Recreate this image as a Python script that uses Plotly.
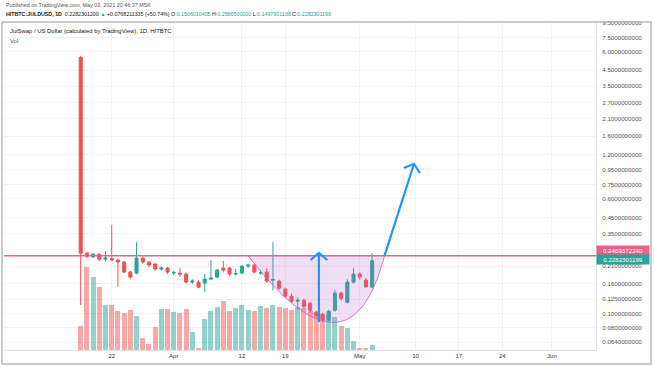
import numpy as np
import pandas as pd
import plotly.graph_objects as go

# ---------------- data ----------------
dates = pd.date_range("2021-03-17", "2021-05-03", freq="D")
open_ = [5.50, 0.257, 0.242, 0.253, 0.234, 0.236, 0.2307, 0.2236, 0.1911, 0.188,
         0.238, 0.2236, 0.2167, 0.2003, 0.2035, 0.1882, 0.1882, 0.1852, 0.1634, 0.1634,
         0.1609, 0.1713, 0.1767, 0.2035, 0.2035, 0.1852, 0.1882, 0.210, 0.213, 0.1882,
         0.1911, 0.1686, 0.166, 0.1464, 0.131, 0.121, 0.1229, 0.1173, 0.1019, 0.0988,
         0.090, 0.1052, 0.1374, 0.1191, 0.1634, 0.1852, 0.1686, 0.1506010405]
high = [5.60, 0.261, 0.257, 0.257, 0.265, 0.400, 0.234, 0.227, 0.195, 0.305,
        0.245, 0.227, 0.220, 0.210, 0.207, 0.195, 0.2035, 0.190, 0.171, 0.168,
        0.1852, 0.2307, 0.200, 0.227, 0.207, 0.2003, 0.213, 0.217, 0.217, 0.1972,
        0.2035, 0.305, 0.170, 0.150, 0.137, 0.129, 0.126, 0.120, 0.104, 0.101,
        0.106, 0.144, 0.141, 0.171, 0.2035, 0.190, 0.174, 0.2566500000]
low = [0.114, 0.238, 0.238, 0.227, 0.227, 0.227, 0.152, 0.188, 0.172, 0.185,
       0.217, 0.207, 0.195, 0.195, 0.185, 0.183, 0.1767, 0.160, 0.158, 0.148,
       0.140, 0.168, 0.174, 0.190, 0.180, 0.180, 0.185, 0.203, 0.188, 0.183,
       0.161, 0.144, 0.144, 0.128, 0.118, 0.1052, 0.108, 0.101, 0.094, 0.087,
       0.088, 0.103, 0.122, 0.117, 0.160, 0.170, 0.150, 0.1497901138]
close = [0.257, 0.245, 0.253, 0.234, 0.238, 0.2307, 0.2236, 0.1911, 0.1767, 0.238,
         0.2236, 0.2133, 0.2003, 0.2035, 0.1911, 0.1900, 0.1852, 0.1634, 0.166, 0.151,
         0.1713, 0.1739, 0.1972, 0.1972, 0.1852, 0.1867, 0.210, 0.213, 0.1911, 0.1895,
         0.166, 0.1699, 0.1487, 0.131, 0.121, 0.1229, 0.1119, 0.1052, 0.0972, 0.090,
         0.1035, 0.1374, 0.1269, 0.1634, 0.1852, 0.1767, 0.1514, 0.2282301199]
volume_k = [24, 83, 73, 63, 45, 45, 39, 37, 40, 34,
            12, 6, 23, 41, 41, 38, 37, 41, 18, 2,
            31, 39, 43, 49, 39, 42, 45, 40, 39, 44,
            42, 45, 43, 42, 40, 43, 42, 39, 37, 36,
            36, 33, 24, 22, 9, 2, 2, 5]

resistance = 0.2469372240
last_close = 0.2282301199

# drawings (date, price)
bowl_start = ("2021-04-13 00:00", resistance)
bowl_bottom = ("2021-04-26 17:00", 0.0868)
bowl_end = ("2021-05-05 00:00", resistance)
arrow_up = [("2021-04-24 10:00", 0.0873), ("2021-04-24 10:00", 0.258)]
arrow_break = [("2021-05-05 00:00", resistance), ("2021-05-09 18:00", 1.04)]

price_ticks = [9.5, 7.5, 6.0, 4.5, 3.5, 2.7, 2.1, 1.6, 1.2, 0.95, 0.75, 0.6,
               0.45, 0.35, 0.21, 0.16, 0.125, 0.1, 0.08, 0.064]
time_ticks = ["2021-03-22", "2021-04-01", "2021-04-12", "2021-04-19", "2021-05-01",
              "2021-05-10", "2021-05-17", "2021-05-24", "2021-06-01"]
time_labels = ["22", "Apr", "12", "19", "May", "10", "17", "24", "Jun"]

# ---------------- style / layout ----------------
UP = "#26a69a"
DOWN = "#ef5350"
PINK = "#ee5f8c"
BLUE = "#2196f3"
W, H = 654, 366
ML, MR, MT, MB = 4, 58, 22, 16
PW, PH = W - ML - MR, H - MT - MB
x_range = ["2021-03-04 15:00", "2021-06-08 02:30"]
y_top, y_bot = 9.55, 0.0565
FONT = "Liberation Sans"

T0 = pd.Timestamp(x_range[0])
span_days = (pd.Timestamp(x_range[1]) - T0) / pd.Timedelta(days=1)
px_day = PW / span_days
px_dec = PH / (np.log10(y_top) - np.log10(y_bot))


def tnum(t):
    return (pd.Timestamp(t) - T0) / pd.Timedelta(days=1)


def tdate(d):
    return T0 + pd.Timedelta(days=float(d))


fig = go.Figure()

vol_colors = ["rgba(38,166,154,0.5)" if c >= o else "rgba(239,83,80,0.5)"
              for o, c in zip(open_, close)]
fig.add_trace(go.Bar(x=dates, y=volume_k, marker_color=vol_colors, marker_line_width=0,
                     width=0.8 * 86400000, yaxis="y", hoverinfo="skip"))

fig.add_trace(go.Candlestick(
    x=dates, open=open_, high=high, low=low, close=close, yaxis="y2",
    increasing=dict(line=dict(color=UP, width=1), fillcolor=UP),
    decreasing=dict(line=dict(color=DOWN, width=1), fillcolor=DOWN),
    whiskerwidth=0))

# bowl (quadratic curve through start, bottom, end in screen-linear space)
P0 = np.array([tnum(bowl_start[0]), np.log10(bowl_start[1])])
M = np.array([tnum(bowl_bottom[0]), np.log10(bowl_bottom[1])])
P2 = np.array([tnum(bowl_end[0]), np.log10(bowl_end[1])])
C = 2 * M - 0.5 * (P0 + P2)
s = np.linspace(0, 1, 80)
Bx = (1 - s) ** 2 * P0[0] + 2 * s * (1 - s) * C[0] + s ** 2 * P2[0]
By = (1 - s) ** 2 * P0[1] + 2 * s * (1 - s) * C[1] + s ** 2 * P2[1]
fig.add_trace(go.Scatter(x=[tdate(v) for v in Bx], y=10 ** By, yaxis="y2", mode="lines",
                         fill="toself", fillcolor="rgba(186,104,200,0.22)",
                         line=dict(color="rgba(200,110,200,0.9)", width=1), hoverinfo="skip"))

# resistance line
fig.add_trace(go.Scatter(x=x_range, y=[resistance, resistance], yaxis="y2", mode="lines",
                         line=dict(color=PINK, width=1.6), hoverinfo="skip"))


def chevron(start, tip, length=11, ang=50):
    sx, sy = tnum(start[0]) * px_day, np.log10(start[1]) * px_dec
    tx, ty = tnum(tip[0]) * px_day, np.log10(tip[1]) * px_dec
    d = np.array([sx - tx, sy - ty])
    d = d / np.hypot(*d)
    xs, ys = [pd.Timestamp(start[0]), pd.Timestamp(tip[0]), None], [start[1], tip[1], None]
    for a in (ang, -ang):
        r = np.radians(a)
        v = np.array([d[0] * np.cos(r) - d[1] * np.sin(r), d[0] * np.sin(r) + d[1] * np.cos(r)])
        wx, wy = tx + length * v[0], ty + length * v[1]
        xs.append(tdate(wx / px_day))
        ys.append(10 ** (wy / px_dec))
        if a == ang:
            xs.append(pd.Timestamp(tip[0]))
            ys.append(tip[1])
    return xs, ys


for arr in (arrow_up, arrow_break):
    xs, ys = chevron(arr[0], arr[1])
    fig.add_trace(go.Scatter(x=xs, y=ys, yaxis="y2", mode="lines",
                             line=dict(color=BLUE, width=2.2), hoverinfo="skip"))


def ypix_paper(py):
    return (H - MB - py) / PH


annotations = [
    dict(text="Published on TradingView.com, May 03, 2021 20:46:37 MSK", x=0, y=ypix_paper(5),
         font=dict(size=5.4, color="#555")),
    dict(text="<b>HITBTC:JULDUSD, 1D</b>  0.2282301200 <span style='color:#26a69a'>▲</span> "
              "+0.0768211335 (+50.74%) O:<span style='color:#26a69a'>0.1506010405</span> "
              "H:<span style='color:#26a69a'>0.2566500000</span> "
              "L:<span style='color:#26a69a'>0.1497901138</span> "
              "C:<span style='color:#26a69a'>0.2282301199</span>",
         x=0, y=ypix_paper(14), font=dict(size=5.3, color="#131722")),
    dict(text="JulSwap / US Dollar (calculated by TradingView), 1D, HITBTC", x=0.006, y=ypix_paper(31),
         font=dict(size=5.9, color="#131722")),
    dict(text="Vol", x=0.006, y=ypix_paper(41), font=dict(size=5.9, color="#555")),
]
for a in annotations:
    a.update(xref="paper", yref="paper", xanchor="left", yanchor="middle", showarrow=False)

annotations += [
    dict(text=f"{resistance:.10f}", xref="paper", yref="y2", x=1, y=np.log10(resistance),
         yshift=5, xanchor="left", yanchor="middle", showarrow=False, bgcolor=PINK,
         font=dict(size=6.2, color="white"), borderpad=1, width=50, align="center"),
    dict(text=f"{last_close:.10f}", xref="paper", yref="y2", x=1, y=np.log10(last_close),
         yshift=1, xanchor="left", yanchor="middle", showarrow=False, bgcolor=UP,
         font=dict(size=6.2, color="white"), borderpad=1, width=50, align="center"),
]

shapes = [dict(type="rect", xref="paper", yref="paper",
               x0=(2 - ML) / PW, x1=(651 - ML) / PW, y0=ypix_paper(364), y1=1,
               line=dict(color="#b6b9bf", width=1.5), fillcolor="rgba(0,0,0,0)")]

fig.update_layout(
    width=W, height=H, margin=dict(l=ML, r=MR, t=MT, b=MB),
    paper_bgcolor="white", plot_bgcolor="white", showlegend=False,
    font=dict(family=FONT, size=6, color="#333"),
    xaxis=dict(type="date", range=x_range, tickvals=time_ticks, ticktext=time_labels,
               showgrid=True, gridcolor="#f0f2f6", gridwidth=1, rangeslider=dict(visible=False),
               showline=True, linecolor="#e0e3eb", ticks="", tickfont=dict(size=6, color="#333"),
               zeroline=False),
    yaxis=dict(range=[0, max(volume_k) / 0.253], visible=False, showgrid=False, fixedrange=True),
    yaxis2=dict(type="log", overlaying="y", side="right",
                range=[np.log10(y_bot), np.log10(y_top)],
                tickvals=price_ticks, ticktext=[f"{v:.10f}" for v in price_ticks],
                showgrid=True, gridcolor="#f0f2f6", gridwidth=1, showline=True,
                linecolor="#e0e3eb", ticks="", ticklabelstandoff=4,
                tickfont=dict(size=6.2, color="#555"), zeroline=False),
    annotations=annotations, shapes=shapes, bargap=0,
)

fig.write_html("out.html", config={"displayModeBar": False},
               post_script="document.body.style.margin='0';")
